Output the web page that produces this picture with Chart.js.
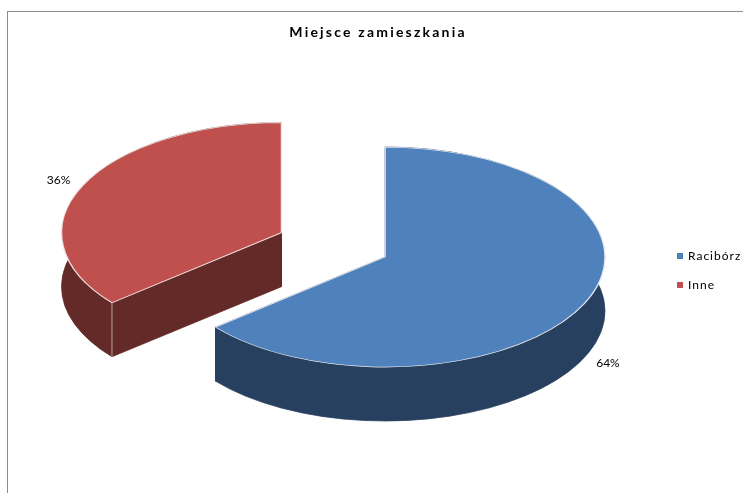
<!DOCTYPE html>
<html>
<head>
<meta charset="utf-8">
<title>Miejsce zamieszkania</title>
<script src="https://cdn.jsdelivr.net/npm/chart.js@4.4.1/dist/chart.umd.min.js"></script>
<style>
  html, body { margin: 0; padding: 0; background: #fff; }
  #wrap { position: relative; width: 743px; height: 493px; }
</style>
</head>
<body>
<div id="wrap"><canvas id="placeChart"></canvas></div>
<script>
// Place of residence split
const categories = ['Racibórz', 'Inne'];
const shares = [64, 36];
const topColors = ['#4f81bd', '#c0504d'];
const sideColors = ['#28405f', '#632a28'];
const explode = [0, 0.52];      // how far each slice is pulled out, as a fraction of the radius

const TILT = 0.5;               // vertical squash of the pie
const DEPTH = 54;               // thickness of the pie on screen, px
const FONT = 'Lato, "Open Sans", "DejaVu Sans", sans-serif';

function pieCenter(chart) {
    const a = chart.chartArea;
    return { cx: (a.left + a.right) / 2, cy: (a.top + a.bottom) / 2 };
}

// Walls of one slice: both cut faces and the rim, d = thickness in tilted space
function drawWalls(ctx, arc, color, d) {
    const { x, y, outerRadius: r, startAngle: a0, endAngle: a1 } = arc;
    ctx.fillStyle = color;
    ctx.strokeStyle = color;
    ctx.lineWidth = 1;
    const shape = (build) => {
        ctx.beginPath();
        build();
        ctx.closePath();
        ctx.fill();
        ctx.stroke();
    };
    [a0, a1].forEach(a => shape(() => {
        const px = x + Math.cos(a) * r, py = y + Math.sin(a) * r;
        ctx.moveTo(x, y);
        ctx.lineTo(px, py);
        ctx.lineTo(px, py + d);
        ctx.lineTo(x, y + d);
    }));
    shape(() => {
        ctx.arc(x, y, r, a0, a1);
        ctx.arc(x, y + d, r, a1, a0, true);
    });

    // light edge where a cut face meets the rim in front
    ctx.strokeStyle = 'rgba(255,255,255,0.75)';
    [[a0, -Math.cos(a0)], [a1, Math.cos(a1)]].forEach(([a, facing]) => {
        if (facing > 0 && Math.sin(a) > 0) {
            const px = x + Math.cos(a) * r, py = y + Math.sin(a) * r;
            ctx.beginPath();
            ctx.moveTo(px, py);
            ctx.lineTo(px, py + d);
            ctx.stroke();
        }
    });
}

// Tilts the pie, pulls slices out and draws the slice walls under the tops
const pie3d = {
    id: 'pie3d',
    afterUpdate(chart) {
        chart.getDatasetMeta(0).data.forEach((arc, i) => {
            const mid = (arc.startAngle + arc.endAngle) / 2;
            const d = explode[i] * arc.outerRadius;
            arc.x += Math.cos(mid) * d;
            arc.y += Math.sin(mid) * d;
        });
    },
    beforeDatasetsDraw(chart) {
        const { ctx } = chart;
        const { cx, cy } = pieCenter(chart);
        ctx.save();
        ctx.translate(cx, cy);
        ctx.scale(1, TILT);
        ctx.translate(-cx, -cy);
        chart.getDatasetMeta(0).data.forEach((arc, i) => {
            drawWalls(ctx, arc, sideColors[i], DEPTH / TILT);
        });
    },
    afterDatasetsDraw(chart) {
        chart.ctx.restore();
    }
};

// Frame, title, percentage labels and legend
const decor = {
    id: 'decor',
    afterDraw(chart) {
        const { ctx } = chart;
        const { cy } = pieCenter(chart);
        ctx.save();

        ctx.strokeStyle = '#8c8c8c';
        ctx.lineWidth = 1;
        ctx.strokeRect(7.5, 11.5, 800, 600);

        ctx.fillStyle = '#000';
        ctx.font = 'bold 14px ' + FONT;
        ctx.textAlign = 'center';
        ctx.textBaseline = 'middle';
        ctx.letterSpacing = '2.2px';
        ctx.fillText('Miejsce zamieszkania', 378, 32);
        ctx.letterSpacing = '0px';

        const data = chart.data.datasets[0].data;
        const total = data.reduce((s, v) => s + v, 0);
        ctx.font = '12px ' + FONT;
        chart.getDatasetMeta(0).data.forEach((arc, i) => {
            const mid = (arc.startAngle + arc.endAngle) / 2;
            const r = arc.outerRadius * 1.12;
            const x = arc.x + Math.cos(mid) * r;
            let y = cy + (arc.y - cy + Math.sin(mid) * r) * TILT;
            if (Math.sin(mid) > 0) y += DEPTH;
            ctx.fillText(Math.round(data[i] / total * 100) + '%', x, y);
        });

        ctx.font = '12px ' + FONT;
        ctx.textAlign = 'left';
        ctx.letterSpacing = '1px';
        chart.data.labels.forEach((label, i) => {
            const y = 256 + i * 29;
            ctx.fillStyle = topColors[i];
            ctx.fillRect(677, y - 3, 6, 6);
            ctx.fillStyle = '#000';
            ctx.fillText(label, 688, y);
        });
        ctx.restore();
    }
};

new Chart(document.getElementById('placeChart'), {
    type: 'pie',
    data: {
        labels: categories,
        datasets: [{
            data: shares,
            backgroundColor: topColors,
            borderColor: 'rgba(255,255,255,0.85)',
            borderWidth: 1.5,
            clip: false
        }]
    },
    options: {
        responsive: true,
        maintainAspectRatio: false,
        animation: false,
        events: [],
        radius: 220,
        layout: { padding: { left: 30, right: 3, top: 30, bottom: 9 } },
        plugins: {
            legend: { display: false },
            title: { display: false },
            tooltip: { enabled: false }
        }
    },
    plugins: [pie3d, decor]
});
</script>
</body>
</html>
